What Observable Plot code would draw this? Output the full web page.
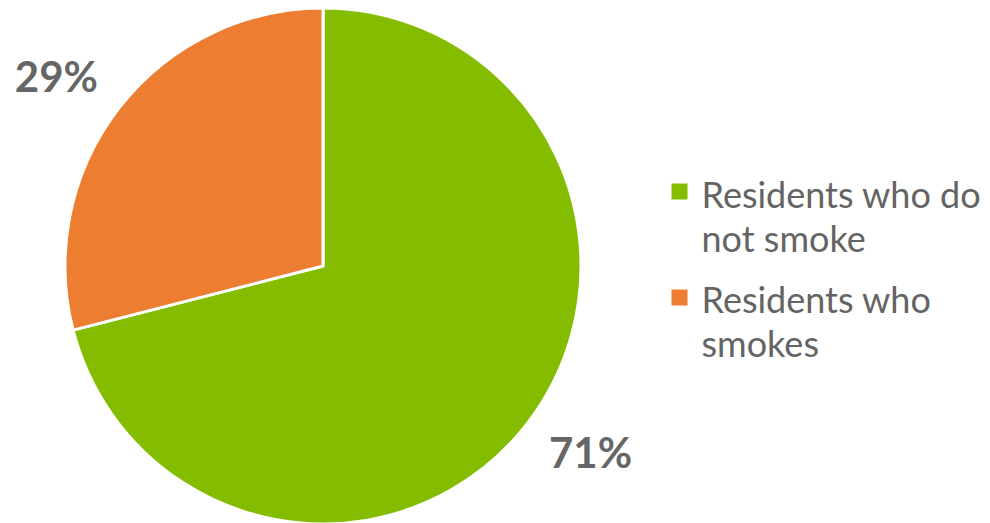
<!DOCTYPE html>
<html><head><meta charset="utf-8">
<script src="https://cdn.jsdelivr.net/npm/d3@7"></script>
<script src="https://cdn.jsdelivr.net/npm/@observablehq/plot@0.6"></script>
<style>html,body{margin:0;padding:0;background:#fff;overflow:hidden;}</style>
</head><body><div id="chart"></div>
<script>
// ---- data ----
const categories = ["Residents who do not smoke", "Residents who smokes"];
const legendLabels = ["Residents who do\nnot smoke", "Residents who\nsmokes"];
const values = [71, 29];
const valueLabels = ["71%", "29%"];
const colors = ["#84BC00", "#ED7D31"];

// ---- layout ----
const W = 990, H = 523;
const cx = 323, cy = 266, R = 258;
const labelRx = 338, labelRy = 307;
const legendX = 701, legendY0 = 215, legendStep = 105;

const data = categories.map((c, i) => ({category: c, value: values[i], label: valueLabels[i], legend: legendLabels[i], color: colors[i], i}));
const arcs = d3.pie().sort(null).value(d => d.value)(data);
arcs.forEach(a => {
  const m = (a.startAngle + a.endAngle) / 2;
  a.lx = cx + labelRx * Math.sin(m);
  a.ly = cy - labelRy * Math.cos(m);
  a.label = a.data.label;
});

const pieMark = (index, scales) => {
  const r = scales.x(cx + R) - scales.x(cx);
  const g = d3.create("svg:g").attr("transform", `translate(${scales.x(cx)},${scales.y(cy)})`);
  const arc = d3.arc().innerRadius(0).outerRadius(r);
  g.selectAll("path").data(arcs).join("path")
    .attr("d", arc)
    .attr("fill", d => scales.color ? scales.color(d.data.category) : d.data.color)
    .attr("stroke", "#fff")
    .attr("stroke-width", 3)
    .attr("stroke-linejoin", "round");
  return g.node();
};

const chart = Plot.plot({
  width: W, height: H, margin: 0,
  x: {domain: [0, W], range: [0, W], axis: null},
  y: {domain: [0, H], range: [0, H], axis: null},
  color: {domain: categories, range: colors},
  style: {fontFamily: "Lato, sans-serif", background: "#fff"},
  marks: [
    pieMark,
    Plot.text(arcs, {x: "lx", y: "ly", text: "label", fontSize: 42, fontWeight: "bold", fill: "#666666", textAnchor: "middle"}),
    Plot.dot(data, {x: () => 679, y: d => 191 + d.i * 106, symbol: "square", r: 9.03, fill: "category", stroke: null}),
    Plot.text(data, {x: () => legendX, y: d => legendY0 + d.i * legendStep, text: "legend", fontSize: 36, lineHeight: 1.222, textAnchor: "start", fill: "#646464"})
  ]
});
document.getElementById("chart").append(chart);
</script>
</body></html>
